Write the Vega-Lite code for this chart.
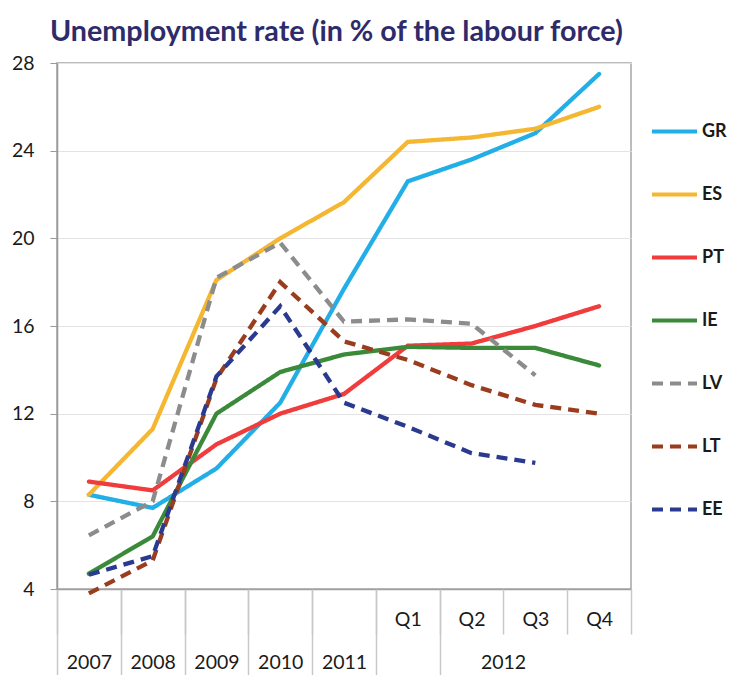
{
  "$schema": "https://vega.github.io/schema/vega-lite/v6.json",
  "width": 574,
  "height": 526,
  "autosize": {"type": "none"},
  "padding": {"left": 57, "top": 63, "right": 101, "bottom": 86},
  "title": {
    "text": "Unemployment rate (in % of the labour force)",
    "font": "Lato",
    "fontSize": 28.7,
    "fontWeight": "bold",
    "color": "#2e2b6b",
    "anchor": "start",
    "frame": "group",
    "dx": -7,
    "offset": 6
  },
  "data": {
    "values": [
      {"country": "GR", "period": "2007", "value": 8.3},
      {"country": "GR", "period": "2008", "value": 7.7},
      {"country": "GR", "period": "2009", "value": 9.5},
      {"country": "GR", "period": "2010", "value": 12.5},
      {"country": "GR", "period": "2011", "value": 17.7},
      {"country": "GR", "period": "Q1", "value": 22.6},
      {"country": "GR", "period": "Q2", "value": 23.6},
      {"country": "GR", "period": "Q3", "value": 24.8},
      {"country": "GR", "period": "Q4", "value": 27.5},
      {"country": "ES", "period": "2007", "value": 8.3},
      {"country": "ES", "period": "2008", "value": 11.3},
      {"country": "ES", "period": "2009", "value": 18.1},
      {"country": "ES", "period": "2010", "value": 20.0},
      {"country": "ES", "period": "2011", "value": 21.65},
      {"country": "ES", "period": "Q1", "value": 24.4},
      {"country": "ES", "period": "Q2", "value": 24.6},
      {"country": "ES", "period": "Q3", "value": 25.0},
      {"country": "ES", "period": "Q4", "value": 26.0},
      {"country": "PT", "period": "2007", "value": 8.9},
      {"country": "PT", "period": "2008", "value": 8.5},
      {"country": "PT", "period": "2009", "value": 10.6},
      {"country": "PT", "period": "2010", "value": 12.0},
      {"country": "PT", "period": "2011", "value": 12.9},
      {"country": "PT", "period": "Q1", "value": 15.1},
      {"country": "PT", "period": "Q2", "value": 15.2},
      {"country": "PT", "period": "Q3", "value": 16.0},
      {"country": "PT", "period": "Q4", "value": 16.9},
      {"country": "IE", "period": "2007", "value": 4.7},
      {"country": "IE", "period": "2008", "value": 6.4},
      {"country": "IE", "period": "2009", "value": 12.0},
      {"country": "IE", "period": "2010", "value": 13.9},
      {"country": "IE", "period": "2011", "value": 14.7},
      {"country": "IE", "period": "Q1", "value": 15.05},
      {"country": "IE", "period": "Q2", "value": 15.0},
      {"country": "IE", "period": "Q3", "value": 15.0},
      {"country": "IE", "period": "Q4", "value": 14.2},
      {"country": "LV", "period": "2007", "value": 6.45},
      {"country": "LV", "period": "2008", "value": 8.0},
      {"country": "LV", "period": "2009", "value": 18.2},
      {"country": "LV", "period": "2010", "value": 19.8},
      {"country": "LV", "period": "2011", "value": 16.2},
      {"country": "LV", "period": "Q1", "value": 16.3},
      {"country": "LV", "period": "Q2", "value": 16.1},
      {"country": "LV", "period": "Q3", "value": 13.75},
      {"country": "LT", "period": "2007", "value": 3.8},
      {"country": "LT", "period": "2008", "value": 5.3},
      {"country": "LT", "period": "2009", "value": 13.6},
      {"country": "LT", "period": "2010", "value": 18.0},
      {"country": "LT", "period": "2011", "value": 15.3},
      {"country": "LT", "period": "Q1", "value": 14.45},
      {"country": "LT", "period": "Q2", "value": 13.3},
      {"country": "LT", "period": "Q3", "value": 12.4},
      {"country": "LT", "period": "Q4", "value": 12.0},
      {"country": "EE", "period": "2007", "value": 4.65},
      {"country": "EE", "period": "2008", "value": 5.5},
      {"country": "EE", "period": "2009", "value": 13.7},
      {"country": "EE", "period": "2010", "value": 16.9},
      {"country": "EE", "period": "2011", "value": 12.5},
      {"country": "EE", "period": "Q1", "value": 11.4},
      {"country": "EE", "period": "Q2", "value": 10.2},
      {"country": "EE", "period": "Q3", "value": 9.75}
    ]
  },
  "encoding": {
    "y": {
      "field": "value",
      "type": "quantitative",
      "scale": {"domain": [4, 28], "nice": false, "zero": false},
      "axis": {
        "title": null,
        "values": [4, 8, 12, 16, 20, 24, 28],
        "labelFont": "Lato",
        "labelFontSize": 19.5,
        "labelColor": "#1a1a1a",
        "labelPadding": 16,
        "tickSize": 7,
        "tickColor": "#999999",
        "domainColor": "#999999",
        "domainWidth": 1.5,
        "gridColor": "#e3e3e3",
        "gridWidth": 1
      }
    },
    "color": {
      "field": "country",
      "type": "nominal",
      "scale": {
        "domain": ["GR", "ES", "PT", "IE", "LV", "LT", "EE"],
        "range": ["#22aee6", "#f5b731", "#f03c3c", "#3a8a3a", "#8c8c8c", "#9a3d1f", "#2a3a8f"]
      },
      "legend": {
        "title": null,
        "orient": "none",
        "legendX": 593,
        "legendY": 44,
        "symbolType": "stroke",
        "symbolSize": 2025,
        "symbolStrokeWidth": 4,
        "labelFont": "Lato",
        "labelFontSize": 18,
        "labelFontWeight": "bold",
        "labelColor": "#1a1a1a",
        "labelOffset": 3,
        "rowPadding": 29
      }
    },
    "strokeDash": {
      "field": "country",
      "type": "nominal",
      "scale": {
        "domain": ["GR", "ES", "PT", "IE", "LV", "LT", "EE"],
        "range": [[1, 0], [1, 0], [1, 0], [1, 0], [11, 7], [11, 7], [11, 7]]
      },
      "legend": {
        "title": null,
        "orient": "none",
        "legendX": 593,
        "legendY": 44,
        "symbolType": "stroke",
        "symbolSize": 2025,
        "symbolStrokeWidth": 4,
        "labelFont": "Lato",
        "labelFontSize": 18,
        "labelFontWeight": "bold",
        "labelColor": "#1a1a1a",
        "labelOffset": 3,
        "rowPadding": 29
      }
    }
  },
  "layer": [
    {
      "transform": [{"filter": "indexof(['GR','ES','PT','IE'], datum.country) >= 0"}],
      "mark": {"type": "line", "strokeWidth": 4.3, "strokeCap": "round"},
      "encoding": {
        "x": {
          "field": "period",
          "type": "ordinal",
          "scale": {
            "domain": ["2007", "2008", "2009", "2010", "2011", "Q1", "Q2", "Q3", "Q4"],
            "paddingInner": 0,
            "paddingOuter": 0
          },
          "axis": {
            "orient": "bottom",
            "title": "2012",
            "titleX": 446,
            "titleY": 73,
            "titleBaseline": "middle",
            "titleFont": "Lato",
            "titleFontSize": 19.5,
            "titleFontWeight": "normal",
            "titleColor": "#1a1a1a",
            "labelExpr": "indexof(['Q1','Q2','Q3','Q4'], datum.value) >= 0 ? '' : datum.label",
            "labelAngle": 0,
            "labelOverlap": false,
            "labelBaseline": "middle",
            "labelPadding": -13,
            "labelFont": "Lato",
            "labelFontSize": 19.5,
            "labelColor": "#1a1a1a",
            "tickBand": "extent",
            "tickSize": 86,
            "tickColor": "#c8c8c8",
            "tickWidth": 1.5,
            "tickOpacity": {"condition": {"test": "indexof(['Q2','Q3','Q4'], datum.value) >= 0", "value": 0}, "value": 1},
            "domainColor": "#a0a0a0",
            "domainWidth": 1.5,
            "grid": false
          }
        }
      }
    },
    {
      "transform": [{"filter": "indexof(['LV','LT','EE'], datum.country) >= 0"}],
      "mark": {"type": "line", "strokeWidth": 4.3},
      "encoding": {
        "x": {
          "field": "period",
          "type": "ordinal",
          "axis": {
            "orient": "bottom",
            "title": null,
            "labelExpr": "indexof(['Q1','Q2','Q3','Q4'], datum.value) >= 0 ? datum.label : ''",
            "labelAngle": 0,
            "labelOverlap": false,
            "labelBaseline": "middle",
            "labelPadding": -15,
            "labelFont": "Lato",
            "labelFontSize": 19.5,
            "labelColor": "#1a1a1a",
            "tickBand": "extent",
            "tickSize": 45,
            "tickColor": "#c8c8c8",
            "tickWidth": 1.5,
            "domain": false,
            "grid": false
          }
        }
      }
    }
  ],
  "resolve": {"axis": {"x": "independent"}},
  "config": {
    "view": {"stroke": "#a6a6a6", "strokeWidth": 1.5},
    "font": "Lato"
  }
}
